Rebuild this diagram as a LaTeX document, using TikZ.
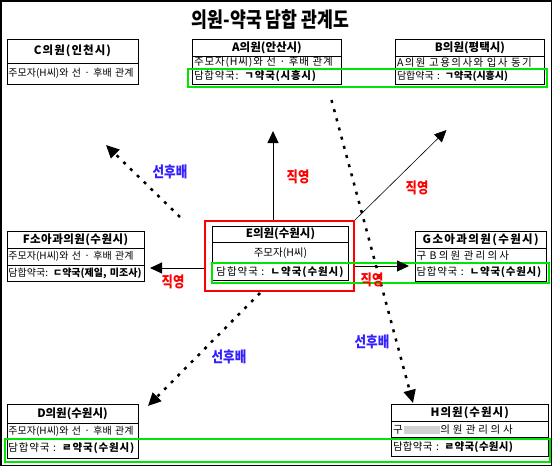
\documentclass[tikz,border=0pt]{standalone}
\usepackage{fontspec}
\setmainfont{Noto Sans CJK KR}
\usetikzlibrary{arrows.meta}
\definecolor{lred}{RGB}{255,0,0}
\definecolor{lblue}{RGB}{50,30,255}
\definecolor{lgreen}{RGB}{0,230,0}
\tikzset{
  hd/.style={draw, line width=0.9pt, anchor=north west, inner sep=0pt, outer sep=0pt,
    font=\fontsize{11.5}{12}\selectfont\bfseries, align=center},
  hsp/.style={font=\fontsize{11.5}{12}\selectfont\bfseries\addfontfeature{LetterSpace=#1}},
  tx/.style={draw, line width=0.9pt, anchor=north west, inner xsep=1.5pt, inner ysep=0pt, outer sep=0pt,
    font=\fontsize{10.5}{12}\selectfont, align=left},
  sp/.style={font=\fontsize{10.5}{12}\selectfont\addfontfeature{LetterSpace=#1}},
  tsmall/.style={font=\fontsize{10}{11}\selectfont},
  txc/.style={tx, align=center},
  greenbox/.style={draw=lgreen, line width=2pt},
  solidarr/.style={line width=1pt, -{Triangle[length=12pt,width=11pt]}},
  thinarr/.style={line width=0.6pt, -{Triangle[length=12pt,width=11pt]}},
  dotarr/.style={line width=2.5pt, dash pattern=on 3pt off 6.5pt, -{Triangle[length=13pt,width=12pt]}},
  redlbl/.style={text=lred, font=\fontsize{15}{16}\selectfont\bfseries\addfontfeature{FakeStretch=0.82}, inner sep=0pt},
  bluelbl/.style={text=lblue, font=\fontsize{15}{16}\selectfont\bfseries\addfontfeature{FakeStretch=0.84}, inner sep=0pt},
}
\begin{document}
\begin{tikzpicture}[x=1pt,y=-1pt]
\useasboundingbox (0,0) rectangle (552,466);
\draw[line width=1.5pt] (0.75,0.75) rectangle (551.25,465.25);

% title
\node[font=\fontsize{21}{23}\selectfont\bfseries\addfontfeature{FakeStretch=0.82}, inner sep=0pt] (title) at (270.5,20) {의원-약국 담합 관계도};

% C
\node[hd, hsp=9, text width=131pt, minimum height=23.5pt] (Ch) at (7,39.5) {C의원(인천시)};
\node[tx, tsmall, text width=128pt, minimum height=21pt] (Cr) at (7,63) {주모자(H씨)와 선 · 후배 관계};

% A
\node[hd, text width=149pt, minimum height=17pt] (Ah) at (192.5,39.5) {A의원(안산시)};
\node[tx, sp=8, text width=146pt, minimum height=12pt] (Ar1) at (192.5,56.5) {주모자(H씨)와 선 · 후배 관계};
\node[tx, sp=7, text width=146pt, minimum height=16pt] (Ar2) at (192.5,68.5) {담합약국: \textbf{ㄱ약국(시흥시)}};

% B
\node[hd, text width=149pt, minimum height=17pt] (Bh) at (395.5,39.5) {B의원(평택시)};
\node[tx, sp=14, text width=146pt, minimum height=12pt] (Br1) at (395.5,56.5) {A의원 고용의사와 입사 동기};
\node[tx, tsmall, text width=146pt, minimum height=16pt] (Br2) at (395.5,68.5) {담합약국 : \textbf{ㄱ약국(시흥시)}};

% F
\node[hd, hsp=4, text width=137pt, minimum height=17pt] (Fh) at (7,231.5) {F소아과의원(수원시)};
\node[tx, tsmall, text width=134pt, minimum height=16.5pt] (Fr1) at (7,248.5) {주모자(H씨)와 선 · 후배 관계};
\node[tx, tsmall, text width=134pt, minimum height=16.5pt] (Fr2) at (7,265) {담합약국: \textbf{ㄷ약국(제일, 미조사)}};

% E
\node[draw=lred, line width=2pt, anchor=north west, minimum width=149pt, minimum height=70pt, inner sep=0pt] (Ebox) at (204,220) {};
\node[hd, text width=136pt, minimum height=16.5pt] (Eh) at (212.5,226) {E의원(수원시)};
\node[txc, text width=133pt, minimum height=21pt] (Er1) at (212.5,242.5) {주모자(H씨)};
\node[txc, sp=9, text width=133pt, minimum height=16.5pt] (Er2) at (212.5,263.5) {담합약국 : \textbf{ㄴ약국(수원시)}};

% G
\node[hd, hsp=12, text width=131.5pt, minimum height=17pt] (Gh) at (415,231.5) {G소아과의원(수원시)};
\node[tx, sp=21, text width=128.5pt, minimum height=15pt] (Gr1) at (415,248.5) {구 B의원 관리의사};
\node[tx, sp=7, text width=128.5pt, minimum height=18pt] (Gr2) at (415,263.5) {담합약국 : \textbf{ㄴ약국(수원시)}};

% D
\node[hd, text width=131pt, minimum height=19.5pt] (Dh) at (7,404) {D의원(수원시)};
\node[tx, tsmall, text width=128pt, minimum height=15pt] (Dr1) at (7,423.5) {주모자(H씨)와 선 · 후배 관계};
\node[tx, sp=8, text width=128pt, minimum height=20pt] (Dr2) at (7,438.5) {담합약국 : \textbf{ㄹ약국(수원시)}};

% H
\node[hd, hsp=9, text width=156.5pt, minimum height=17.5pt] (Hh) at (391.5,404) {H의원(수원시)};
\node[tx, sp=26, text width=153.5pt, minimum height=15.5pt] (Hr1) at (391.5,421.5) {구\,\textcolor{gray!35}{\rule[-0.5pt]{36pt}{8pt}}의원 관리의사};
\node[tx, sp=3, text width=153.5pt, minimum height=19.5pt] (Hr2) at (391.5,437) {담합약국 : \textbf{ㄹ약국(수원시)}};

% green highlight boxes
\draw[greenbox] (187.5,69) rectangle (547,86.5);
\draw[greenbox] (212,263) rectangle (549,283);
\draw[greenbox] (5,438.5) rectangle (549.5,461.5);

% connector end points
\coordinate (tUp) at (273,131);
\coordinate (tB) at (446.5,130);
\coordinate (sC) at (180,217);
\coordinate (tC) at (106,145);
\coordinate (tF) at (150,268);
\coordinate (tG) at (409,266);
\coordinate (sD) at (260,293);
\coordinate (tD) at (148,406);
\coordinate (sH) at (331.5,100);
\coordinate (tH) at (413,403);

% connectors
\draw[solidarr] (tUp |- Ebox.north) -- (tUp);
\draw[thinarr] (Ebox.north east) -- (tB);
\draw[dotarr] (sC) -- (tC);
\draw[solidarr] (Ebox.west |- tF) -- (tF);
\draw[solidarr] (Ebox.east |- tG) -- (tG);
\draw[dotarr] (sD) -- (tD);
\draw[dotarr] (sH) -- (tH);

% labels
\node[redlbl] (l1) at (298,177) {직영};
\node[redlbl] (l2) at (417,188) {직영};
\node[redlbl] (l3) at (173,282) {직영};
\node[redlbl] (l4) at (372,280) {직영};
\node[bluelbl] (l5) at (170,172) {선후배};
\node[bluelbl] (l6) at (229,357) {선후배};
\node[bluelbl] (l7) at (372,342) {선후배};
\end{tikzpicture}
\end{document}
